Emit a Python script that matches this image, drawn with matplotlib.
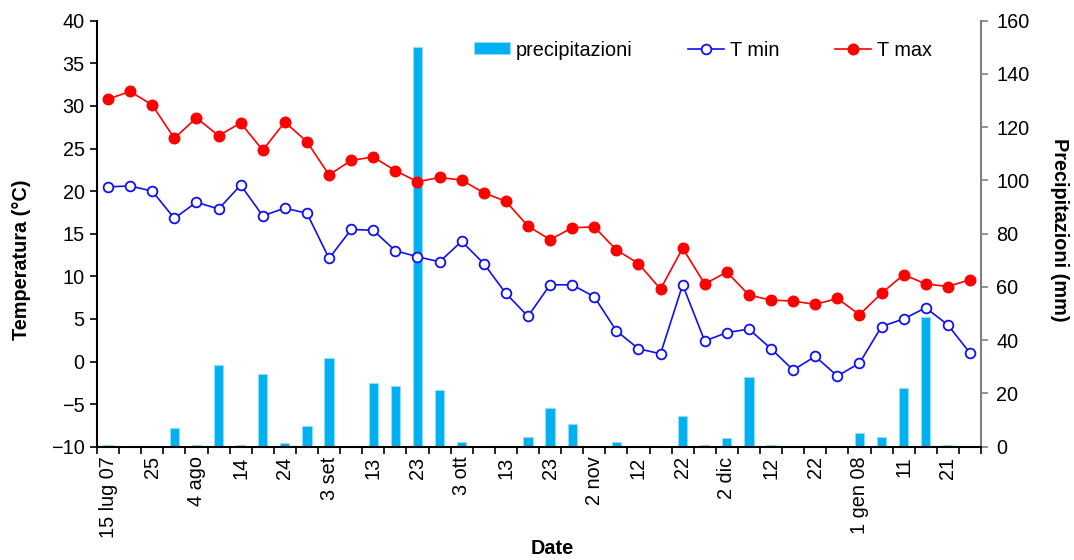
import matplotlib
matplotlib.use("Agg")
import matplotlib.pyplot as plt
import numpy as np

plt.rcParams['font.family'] = ['Liberation Sans', 'DejaVu Sans']

# 5-day periods from 15 Jul 2007 to 26 Jan 2008
t_max = [30.8, 31.7, 30.1, 26.2, 28.6, 26.5, 28.0, 24.8, 28.1, 25.8,
         21.9, 23.6, 24.0, 22.4, 21.1, 21.6, 21.3, 19.8, 18.8, 15.9,
         14.3, 15.7, 15.8, 13.1, 11.5, 8.5, 13.3, 9.1, 10.5, 7.8,
         7.2, 7.1, 6.7, 7.4, 5.5, 8.0, 10.2, 9.1, 8.8, 9.6]
t_min = [20.5, 20.6, 20.0, 16.8, 18.7, 17.9, 20.7, 17.1, 18.0, 17.4,
         12.1, 15.5, 15.4, 13.0, 12.3, 11.7, 14.1, 11.5, 8.0, 5.3,
         9.0, 9.0, 7.6, 3.6, 1.5, 0.9, 9.0, 2.4, 3.4, 3.8,
         1.5, -1.0, 0.6, -1.7, -0.2, 4.1, 5.0, 6.3, 4.3, 1.0]
precip = [0.7, 0, 0, 6.9, 0.6, 30.8, 0.6, 27.3, 1.3, 7.8,
          33.3, 0, 23.8, 22.7, 150, 21.2, 1.8, 0, 0, 3.8,
          14.4, 8.4, 0, 1.8, 0, 0, 11.5, 0.7, 3.2, 26.2,
          0.6, 0, 0, 0, 5.1, 3.6, 22.0, 48.6, 0.6, 0]
date_labels = ["15 lug 07", "25", "4 ago", "14", "24", "3 set", "13", "23",
               "3 ott", "13", "23", "2 nov", "12", "22", "2 dic", "12", "22",
               "1 gen 08", "11", "21"]

x = np.arange(len(t_max))
fs = 14.3

fig = plt.figure(figsize=(10.74, 5.6), dpi=100)
ax = fig.add_axes([97 / 1074, 1 - 446.7 / 560, (981 - 97) / 1074, 426 / 560])
ax2 = ax.twinx()

bars = ax2.bar(x, precip, width=0.42, color="#00B0F0", edgecolor="#8FDDF8",
               linewidth=0.8, label="precipitazioni")
ax2.set_ylim(0, 160)
ax2.set_yticks(np.arange(0, 161, 20))

l_min, = ax.plot(x, t_min, color="#1010F0", lw=1.2, marker="o", ms=7.0,
                 mfc="white", mec="#1010F0", mew=1.3, label="T min")
l_max, = ax.plot(x, t_max, color="#FF0000", lw=1.2, marker="o", ms=7.6,
                 mfc="#FF0000", mec="#FF0000", label="T max")
ax.set_zorder(ax2.get_zorder() + 1)
ax.patch.set_visible(False)

ax.set_xlim(-0.5, len(x) - 0.5)
ax.set_ylim(-10, 40)
ax.set_yticks(np.arange(-10, 41, 5))
ax.set_xticks(x[::2])
ax.set_xticklabels(date_labels, rotation=90)
ax.set_xticks(np.arange(-0.5, len(x)), minor=True)
ax.tick_params(axis="x", which="major", length=0, pad=7, labelsize=fs)
ax.tick_params(axis="x", which="minor", length=5, width=1.2, color="black")
ax.tick_params(axis="y", length=5, width=1.2, labelsize=fs, pad=4)

for s in ["top", "right"]:
    ax.spines[s].set_visible(False)
ax.spines["left"].set_linewidth(1.5)
ax.spines["bottom"].set_linewidth(1.5)

for s in ["top", "left", "bottom"]:
    ax2.spines[s].set_visible(False)
ax2.spines["right"].set_color("#808080")
ax2.spines["right"].set_linewidth(1.5)
ax2.tick_params(axis="y", length=5, width=1.2, color="#808080",
                labelsize=fs, pad=6)

fig.text(22 / 1074, 1 - 260 / 560, "Temperatura (°C)", rotation=90,
         ha="center", va="center", fontsize=fs, fontweight="bold")
fig.text(1060 / 1074, 1 - 230 / 560, "Precipitazioni (mm)", rotation=-90,
         ha="center", va="center", fontsize=fs, fontweight="bold")
fig.text(552 / 1074, 1 - 548 / 560, "Date", ha="center", va="center",
         fontsize=fs, fontweight="bold")

ax.legend([bars, l_min, l_max], ["precipitazioni", "T min", "T max"],
          loc="center left", bbox_to_anchor=(474 / 1074, 1 - 50 / 560),
          bbox_transform=fig.transFigure, ncol=3, frameon=False,
          fontsize=fs, handlelength=1.8, handleheight=0.55,
          columnspacing=2.8, handletextpad=0.3, borderaxespad=0, borderpad=0)

fig.savefig("out.png", dpi=100)
